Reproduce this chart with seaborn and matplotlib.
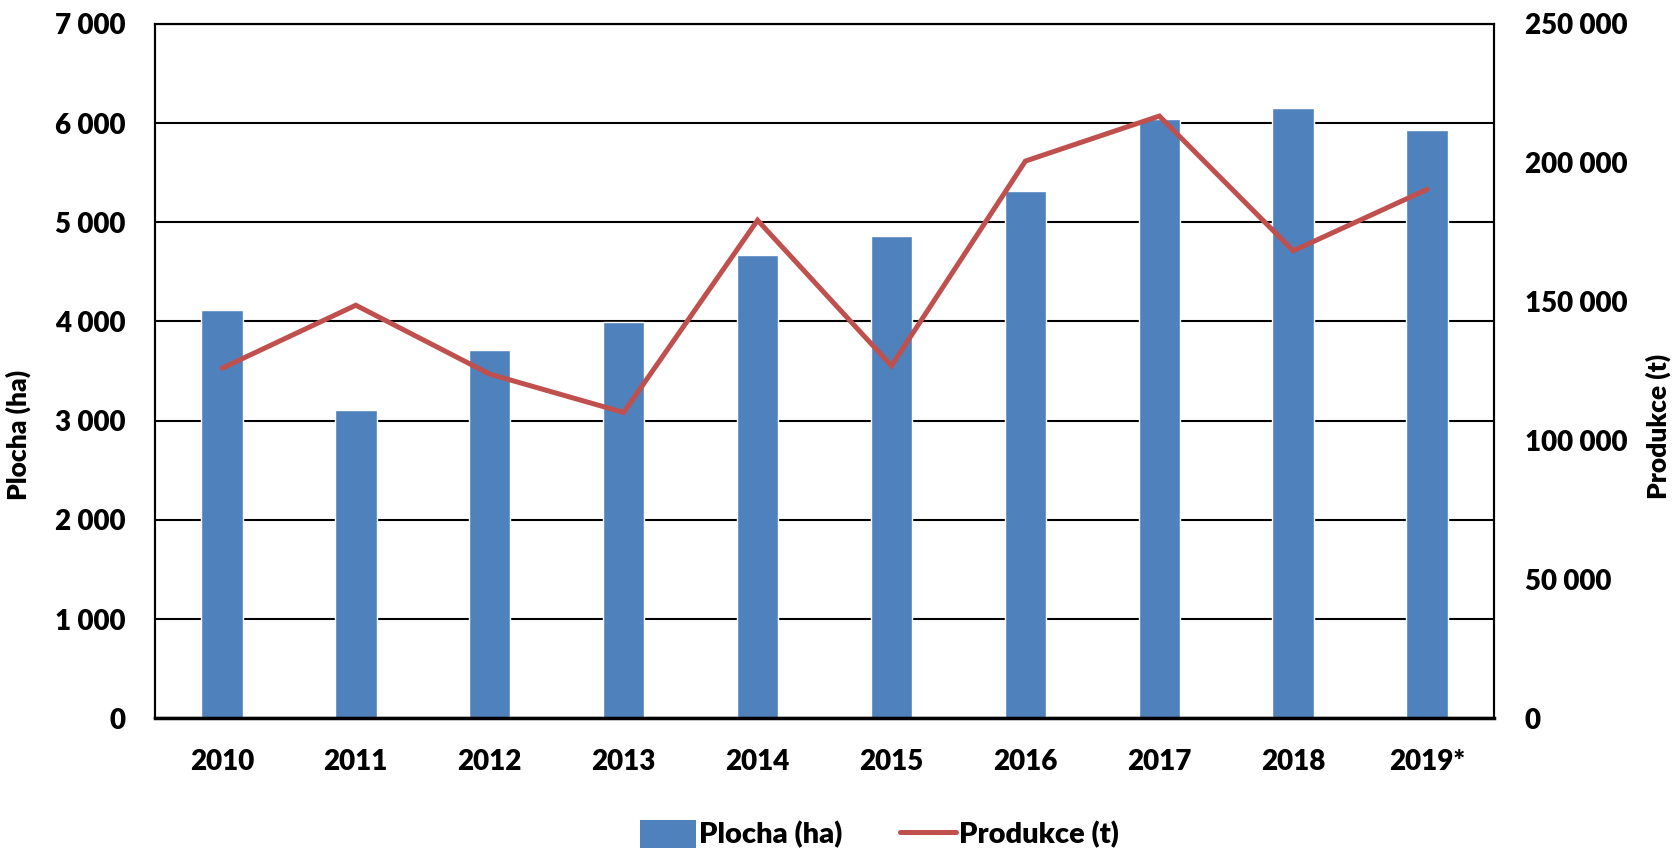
import matplotlib
matplotlib.use("Agg")
import matplotlib.pyplot as plt
import numpy as np
import pandas as pd
import seaborn as sns
from matplotlib.lines import Line2D
from matplotlib.patches import Patch
from matplotlib.ticker import FuncFormatter, MultipleLocator

years = ["2010", "2011", "2012", "2013", "2014", "2015", "2016", "2017", "2018", "2019*"]
plocha_ha = [4120, 3105, 3710, 3990, 4670, 4866, 5310, 6045, 6150, 5925]
produkce_t = [126000, 148700, 123900, 110100, 179300, 126900, 200600, 216800, 168300, 190400]

BLUE = "#4F81BD"
RED = "#C0504D"
WEIGHT = "heavy"


def space_thousands(v, _pos):
    return f"{int(round(v)):,}".replace(",", " ")


def main() -> None:
    sns.set_style("white")
    plt.rcParams["font.family"] = ["Lato", "DejaVu Sans"]
    plt.rcParams["font.weight"] = WEIGHT
    plt.rcParams["text.color"] = "black"
    plt.rcParams["xtick.color"] = "black"
    plt.rcParams["ytick.color"] = "black"

    df = pd.DataFrame({"rok": years, "plocha": plocha_ha, "produkce": produkce_t})
    df["pos"] = np.arange(len(df))

    fig = plt.figure(figsize=(16.75, 8.52), dpi=100)
    ax = fig.add_axes([0.0925, 0.157, 0.7995, 0.815])
    ax2 = ax.twinx()

    sns.barplot(data=df, x="rok", y="plocha", ax=ax, color=BLUE, width=0.31,
                saturation=1, zorder=2)
    sns.lineplot(data=df, x="pos", y="produkce", ax=ax2, color=RED, linewidth=3.6,
                 solid_joinstyle="miter", solid_capstyle="round")

    ax.set_xlim(-0.5, len(years) - 0.5)
    ax.set_ylim(0, 7000)
    ax2.set_ylim(0, 250000)
    ax.yaxis.set_major_locator(MultipleLocator(1000))
    ax2.yaxis.set_major_locator(MultipleLocator(50000))
    ax.yaxis.set_major_formatter(FuncFormatter(space_thousands))
    ax2.yaxis.set_major_formatter(FuncFormatter(space_thousands))

    ax.grid(axis="y", color="black", linewidth=1.5, zorder=0)
    ax.set_axisbelow(True)
    ax2.grid(False)

    for a in (ax, ax2):
        for sp in a.spines.values():
            sp.set_color("black")
            sp.set_linewidth(1.5)
    ax.spines["bottom"].set_linewidth(2.5)

    ax.tick_params(axis="both", length=0, labelsize=20, labelcolor="black")
    ax.tick_params(axis="y", pad=21)
    ax.tick_params(axis="x", pad=22)
    ax2.tick_params(axis="y", length=0, labelsize=20, pad=22, labelcolor="black")
    for lab in ax.get_xticklabels() + ax.get_yticklabels() + ax2.get_yticklabels():
        lab.set_fontweight(WEIGHT)

    ax.set_xlabel("")
    ax.set_ylabel("")
    ax2.set_xlabel("")
    ax2.set_ylabel("")
    fig.text(0.011, 0.49, "Plocha (ha)", rotation=90, ha="center", va="center",
             fontsize=19, fontweight=WEIGHT)
    fig.text(0.99, 0.5, "Produkce (t)", rotation=90, ha="center", va="center",
             fontsize=19, fontweight=WEIGHT)

    handles = [Patch(facecolor=BLUE, edgecolor="none"),
               Line2D([0], [0], color=RED, linewidth=3.6, solid_capstyle="round")]
    fig.legend(handles, ["Plocha (ha)", "Produkce (t)"], loc="center",
               bbox_to_anchor=(0.525, 0.021), ncol=2, frameon=False,
               prop={"size": 21, "weight": WEIGHT}, handlelength=1.9,
               handletextpad=0.1, columnspacing=2.0, handleheight=1.1)

    fig.savefig("out.png", dpi=100)
    plt.close(fig)


if __name__ == "__main__":
    main()
